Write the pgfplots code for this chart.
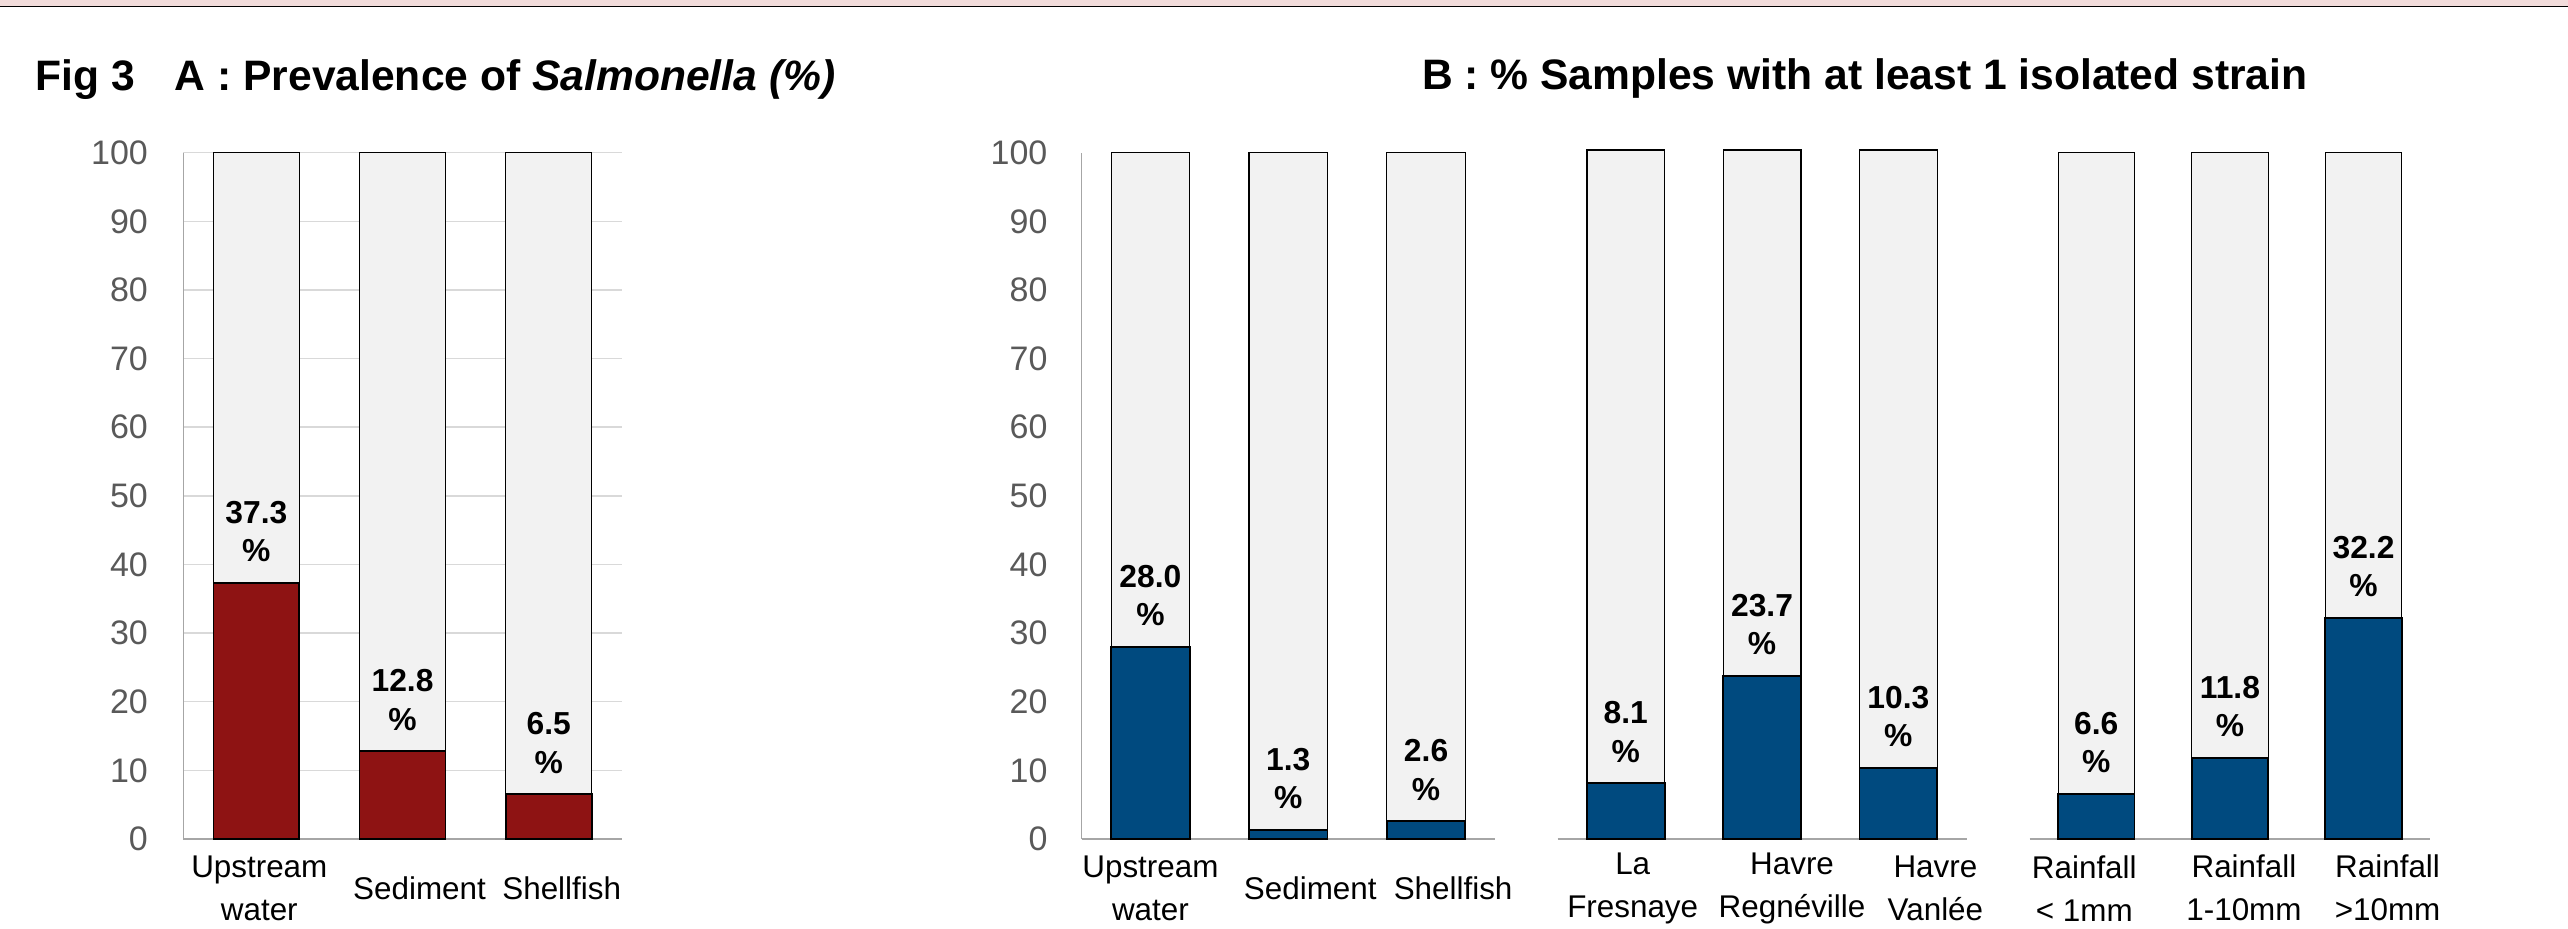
\documentclass[border=0pt]{standalone}
\usepackage{fontspec}
\setmainfont{Liberation Sans}
\usepackage{pgfplots}
\pgfplotsset{compat=1.18}

\definecolor{barred}{RGB}{142,19,19}
\definecolor{barblue}{RGB}{0,74,127}
\definecolor{bargray}{RGB}{242,242,242}
\definecolor{gridgray}{RGB}{217,217,217}
\definecolor{axgray}{RGB}{166,166,166}
\definecolor{ticktext}{RGB}{89,89,89}
\definecolor{bandpink}{RGB}{242,220,219}

\pgfplotsset{
  panel/.style={
    scale only axis, anchor=south west,
    xmin=-0.5, xmax=2.5, ymin=0, ymax=100,
    enlargelimits=false, clip=false,
    major tick length=0pt,
    /pgf/number format/assume math mode=true,
    xticklabel style={anchor=center, yshift=-24.6pt, align=center, inner sep=0pt,
      font=\fontsize{15.7}{21.5}\selectfont, text=black},
    ytick={0,10,...,100},
  },
  nolinearrow/.style={axis line style={-, draw=axgray, line width=0.75pt},
    every outer x axis line/.append style={-}, every outer y axis line/.append style={-},
    every inner x axis line/.append style={-}, every inner y axis line/.append style={-}},
  bg/.style={ybar, bar shift=0pt, fill=bargray, draw=black, line width=0.6pt},
  fg/.style={ybar, bar shift=0pt, fill=#1, draw=black, line width=0.9pt,
    point meta=y,
    nodes near coords={\pgfmathprintnumber[fixed,fixed zerofill,precision=1]{\pgfplotspointmeta}\\\%},
    every node near coord/.append style={align=center, anchor=south, inner sep=0pt,
      yshift=10pt, font=\fontsize{15.9}{19.2}\selectfont\bfseries, text=black}},
}

\begin{document}
\begin{tikzpicture}
\useasboundingbox (0,0) rectangle (1284pt,464pt);
\fill[bandpink] (0,461.15pt) rectangle (1284pt,464pt);
\fill[black] (0,460.35pt) rectangle (1284pt,461.15pt);

\node[anchor=base west, inner sep=0pt, font=\fontsize{21.3}{24}\selectfont\bfseries]
  at (17.5pt,418.65pt) {Fig 3\hspace{20pt}A : Prevalence of \textit{Salmonella (\%)}};
\node[anchor=base west, inner sep=0pt, font=\fontsize{21.3}{24}\selectfont\bfseries]
  at (710.85pt,419pt) {B : \% Samples with at least 1 isolated strain};

% Panel A
\begin{axis}[panel, at={(91.65pt,44.5pt)}, width=219.25pt, height=343.15pt,
  axis lines=left, nolinearrow, ymajorgrids, grid style={gridgray, line width=0.75pt},
  yticklabel style={anchor=east, inner sep=0pt, xshift=-17.5pt,
      font=\fontsize{17}{20}\selectfont, text=ticktext},
  xtick={0.02,1.116,2.089},
  xticklabels={{Upstream\\water},{Sediment},{Shellfish}}]
\addplot[bg, bar width=0.588] coordinates {(0,100) (1,100) (2,100)};
\addplot[fg=barred, bar width=0.588] coordinates {(0,37.3) (1,12.8) (2,6.5)};
\end{axis}

% Panel B, sample type
\begin{axis}[panel, at={(540.75pt,44.5pt)}, width=206.75pt, height=343.15pt,
  axis lines=left, nolinearrow,
  yticklabel style={anchor=east, inner sep=0pt, xshift=-16.85pt,
      font=\fontsize{17}{20}\selectfont, text=ticktext},
  xtick={0,1.16,2.196},
  xticklabels={{Upstream\\water},{Sediment},{Shellfish}}]
\addplot[bg, bar width=0.57] coordinates {(0,100) (1,100) (2,100)};
\addplot[fg=barblue, bar width=0.57] coordinates {(0,28.0) (1,1.3) (2,2.6)};
\end{axis}

% Panel B, site
\begin{axis}[panel, at={(778.8pt,44.5pt)}, width=204.45pt, height=344.5pt,
  axis x line=bottom, axis y line=none, nolinearrow, ytick=\empty,
  xtick={0.051,1.22,2.272},
  xticklabels={{La\\Fresnaye},{Havre\\Regnéville},{Havre\\Vanlée}}]
\addplot[bg, bar width=0.57] coordinates {(0,100) (1,100) (2,100)};
\addplot[fg=barblue, bar width=0.57] coordinates {(0,8.1) (1,23.7) (2,10.3)};
\end{axis}

% Panel B, rainfall
\begin{axis}[panel, at={(1014.75pt,44.5pt)}, width=200.4pt, height=343.15pt,
  axis x line=bottom, axis y line=none, nolinearrow, ytick=\empty,
  xtick={-0.09,1.105,2.18},
  xticklabels={{Rainfall\\< 1mm},{Rainfall\\1-10mm},{Rainfall\\>10mm}}]
\addplot[bg, bar width=0.572] coordinates {(0,100) (1,100) (2,100)};
\addplot[fg=barblue, bar width=0.572] coordinates {(0,6.6) (1,11.8) (2,32.2)};
\end{axis}
\end{tikzpicture}
\end{document}
